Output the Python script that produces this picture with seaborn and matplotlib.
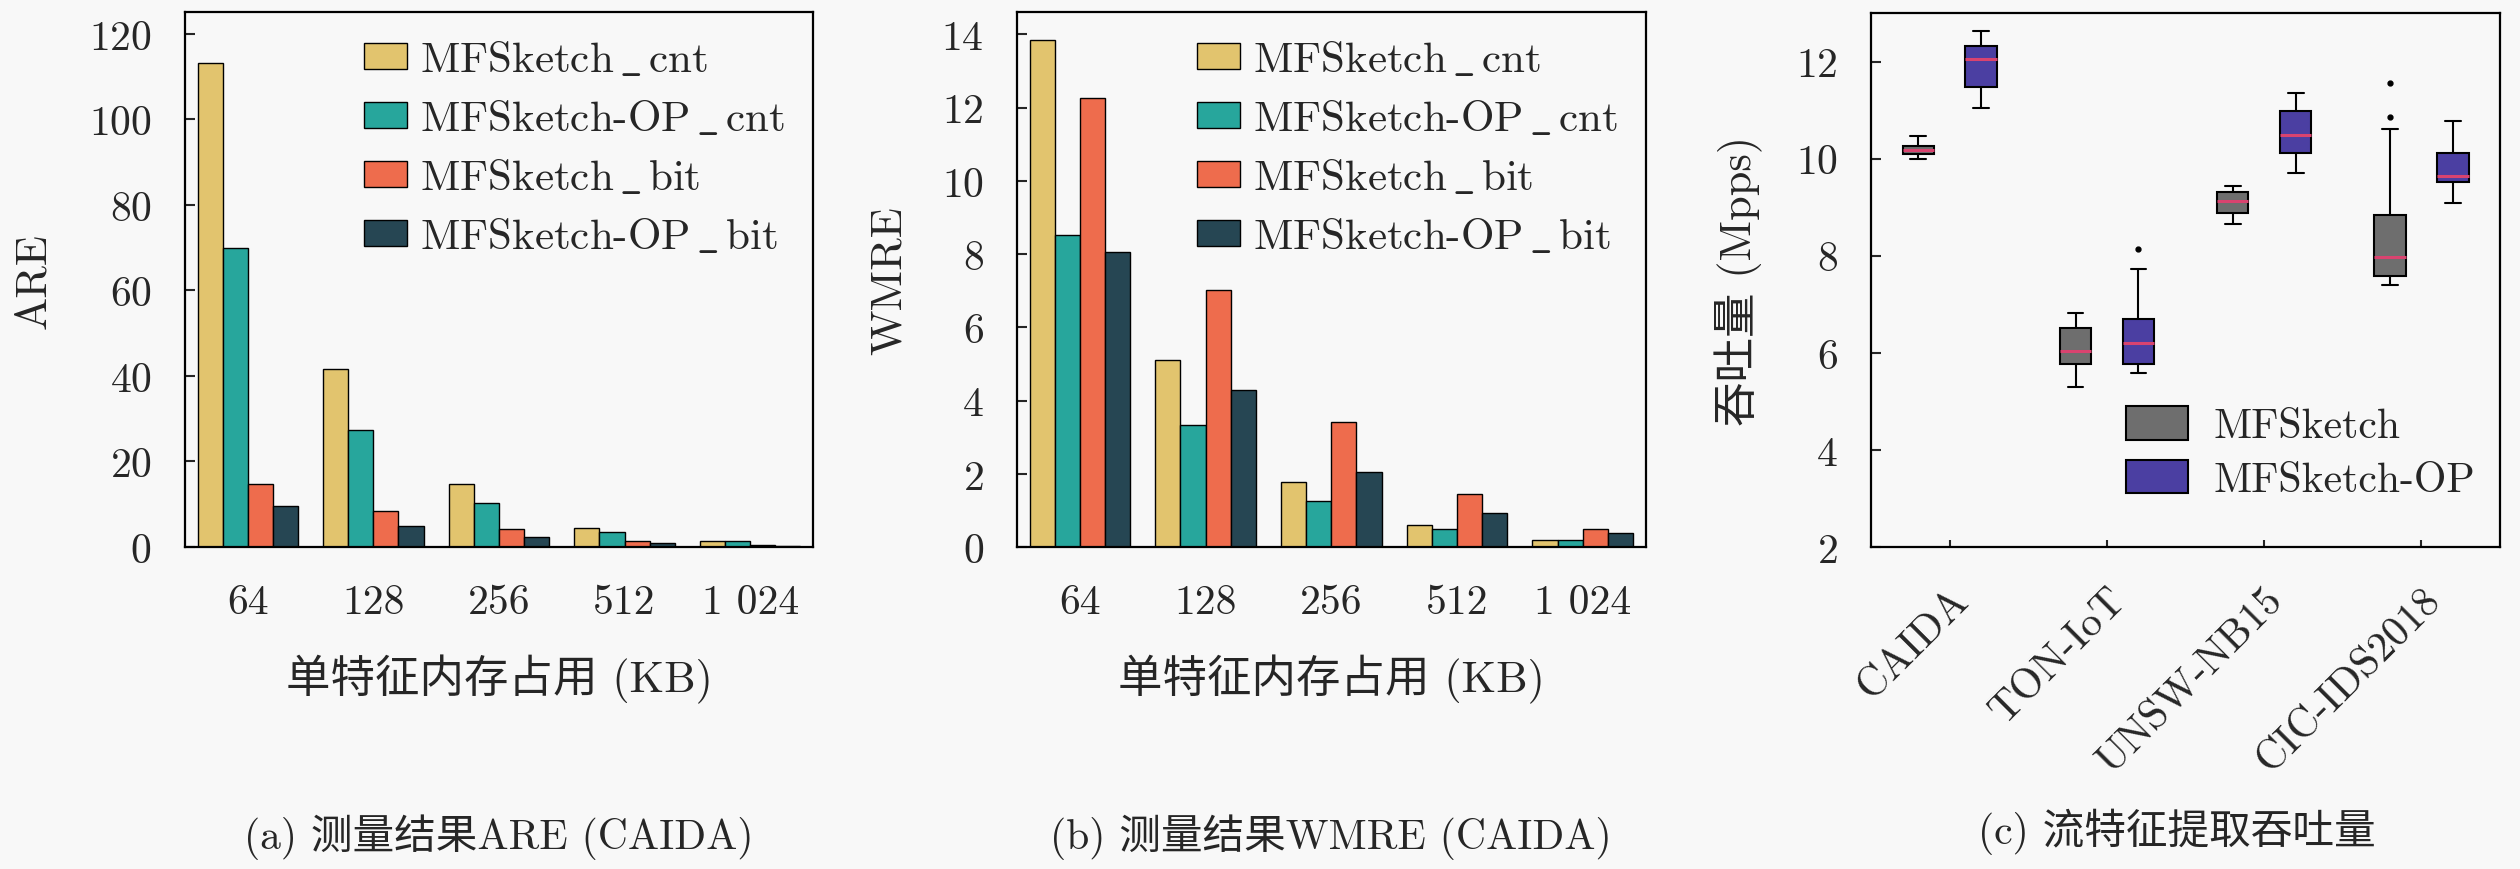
import numpy as np
import pandas as pd
import matplotlib
matplotlib.use("Agg")
import matplotlib.pyplot as plt
import seaborn as sns

# ---- data ----
mem_labels = ["64", "128", "256", "512", "1 024"]
methods = [r"MFSketch$\,\_\,$cnt", r"MFSketch-OP$\,\_\,$cnt",
           r"MFSketch$\,\_\,$bit", r"MFSketch-OP$\,\_\,$bit"]

are_cnt = [113.2, 41.7, 14.7, 4.5, 1.35]
are_op_cnt = [70.0, 27.3, 10.2, 3.5, 1.3]
are_bit = [14.8, 8.4, 4.1, 1.5, 0.4]
are_op_bit = [9.6, 5.0, 2.4, 0.9, 0.25]

wmre_cnt = [13.85, 5.1, 1.78, 0.59, 0.18]
wmre_op_cnt = [8.52, 3.32, 1.26, 0.48, 0.18]
wmre_bit = [12.25, 7.02, 3.42, 1.45, 0.5]
wmre_op_bit = [8.05, 4.28, 2.05, 0.93, 0.37]

datasets = ["CAIDA", "TON-IoT", "UNSW-NB15", "CIC-IDS2018"]
box_methods = ["MFSketch", "MFSketch-OP"]
# five-number summaries per dataset, [MFSketch, MFSketch-OP]
whisker_lo = [[9.99, 11.04], [5.30, 5.58], [8.65, 9.71], [7.39, 9.08]]
q1 = [[10.10, 11.47], [5.78, 5.76], [8.89, 10.11], [7.58, 9.52]]
median = [[10.18, 12.05], [6.03, 6.20], [9.12, 10.49], [7.98, 9.65]]
q3 = [[10.27, 12.32], [6.52, 6.69], [9.32, 10.99], [8.83, 10.12]]
whisker_hi = [[10.46, 12.63], [6.83, 7.73], [9.43, 11.36], [10.61, 10.77]]
outliers = [[[], []], [[], [8.13]], [[], []], [[10.85, 11.56], []]]

bar_colors = ["#E2C46E", "#27A69C", "#EE6C4D", "#264653"]
box_colors = ["#6E6E6E", "#4B3FA2"]
bg = "#f8f8f8"

sns.set_style("ticks")
plt.rcParams["font.family"] = ["cmr10", "Noto Sans CJK SC"]
plt.rcParams["mathtext.fontset"] = "cm"
plt.rcParams["axes.formatter.use_mathtext"] = True
plt.rcParams["axes.unicode_minus"] = False

fig = plt.figure(figsize=(25.2, 8.7), dpi=100, facecolor=bg)
ax_a = fig.add_axes([0.0734, 0.3701, 0.2492, 0.6145])
ax_b = fig.add_axes([0.4036, 0.3701, 0.2494, 0.6145])
ax_c = fig.add_axes([0.7425, 0.3701, 0.2496, 0.6138])

fs = 30


def bar_panel(ax, series, ylabel, ymax, yticks, ylab_x):
    rows = []
    for m, vals in zip(methods, series):
        for mem, v in zip(mem_labels, vals):
            rows.append({"mem": mem, "method": m, "value": v})
    df = pd.DataFrame(rows)
    sns.barplot(data=df, x="mem", y="value", hue="method", order=mem_labels,
                hue_order=methods, palette=bar_colors, edgecolor="black",
                linewidth=1, ax=ax, width=0.8, saturation=1)
    ax.set_facecolor(bg)
    ax.set_xlim(-0.5, 4.5)
    ax.set_ylim(0, ymax)
    ax.set_yticks(yticks)
    ax.tick_params(axis="y", direction="in", length=7, width=1.5, pad=24, labelsize=fs)
    ax.tick_params(axis="x", length=0, pad=26, labelsize=fs)
    for s in ax.spines.values():
        s.set_linewidth(1.6)
        s.set_color("black")
    ax.set_xlabel("单特征内存占用 (KB)", fontsize=32)
    ax.xaxis.set_label_coords(0.5, -0.2)
    ax.set_ylabel(ylabel, fontsize=32)
    ax.yaxis.set_label_coords(ylab_x, 0.5)
    sns.move_legend(ax, "upper right", bbox_to_anchor=(1.0, 1.0), frameon=False,
                    title=None, fontsize=31, handlelength=1.0, handleheight=0.55,
                    handletextpad=0.3, labelspacing=0.46, borderaxespad=0.25)


bar_panel(ax_a, [are_cnt, are_op_cnt, are_bit, are_op_bit], "ARE", 125,
          [0, 20, 40, 60, 80, 100, 120], -0.209)
bar_panel(ax_b, [wmre_cnt, wmre_op_cnt, wmre_bit, wmre_op_bit], "WMRE", 14.6,
          [0, 2, 4, 6, 8, 10, 12, 14], -0.170)

# box plot: long-form values rebuilt from the summaries
rows = []
for i, d in enumerate(datasets):
    for j, m in enumerate(box_methods):
        outs = outliers[i][j]
        k = len(outs)
        lo, a, md, b, hi = whisker_lo[i][j], q1[i][j], median[i][j], q3[i][j], whisker_hi[i][j]
        vals = [lo] + [a] * (k + 1) + [md] * (k + 1) + [b] * (k + 1) + [hi] + outs
        for v in vals:
            rows.append({"dataset": d, "method": m, "value": v})
box_df = pd.DataFrame(rows)

sns.boxplot(data=box_df, x="dataset", y="value", hue="method", order=datasets,
            hue_order=box_methods, palette=box_colors, width=0.8, gap=0.5,
            linecolor="black", linewidth=1.5, whis=1.5, ax=ax_c, saturation=1,
            medianprops={"color": "#D9436F", "linewidth": 2.2},
            flierprops={"marker": "o", "markersize": 3.5, "markerfacecolor": "black",
                        "markeredgecolor": "black"})
ax_c.set_facecolor(bg)
ax_c.set_ylim(2, 13)
ax_c.set_yticks([2, 4, 6, 8, 10, 12])
ax_c.set_xlim(-0.5, 3.5)
ax_c.tick_params(axis="y", direction="in", length=7, width=1.5, pad=24, labelsize=fs)
ax_c.tick_params(axis="x", direction="in", length=5, width=1.5, pad=24, labelsize=fs)
for lab in ax_c.get_xticklabels():
    lab.set_rotation(45)
    lab.set_ha("right")
    lab.set_va("top")
    lab.set_rotation_mode("anchor")
for s in ax_c.spines.values():
    s.set_linewidth(1.6)
    s.set_color("black")
ax_c.set_xlabel("")
ax_c.set_ylabel("吞吐量 (Mpps)", fontsize=32)
ax_c.yaxis.set_label_coords(-0.172, 0.5)
sns.move_legend(ax_c, "lower right", bbox_to_anchor=(1.0, 0.043), frameon=False,
                title=None, fontsize=fs, handlelength=1.5, handleheight=0.85,
                handletextpad=0.6, labelspacing=0.35, borderaxespad=0.2)

fig.text(0.198, 0.038, "(a) 测量结果ARE (CAIDA)", ha="center", va="center", fontsize=30)
fig.text(0.528, 0.038, "(b) 测量结果WMRE (CAIDA)", ha="center", va="center", fontsize=30)
fig.text(0.864, 0.044, "(c) 流特征提取吞吐量", ha="center", va="center", fontsize=30)

fig.savefig("out.png", dpi=100, facecolor=bg)
